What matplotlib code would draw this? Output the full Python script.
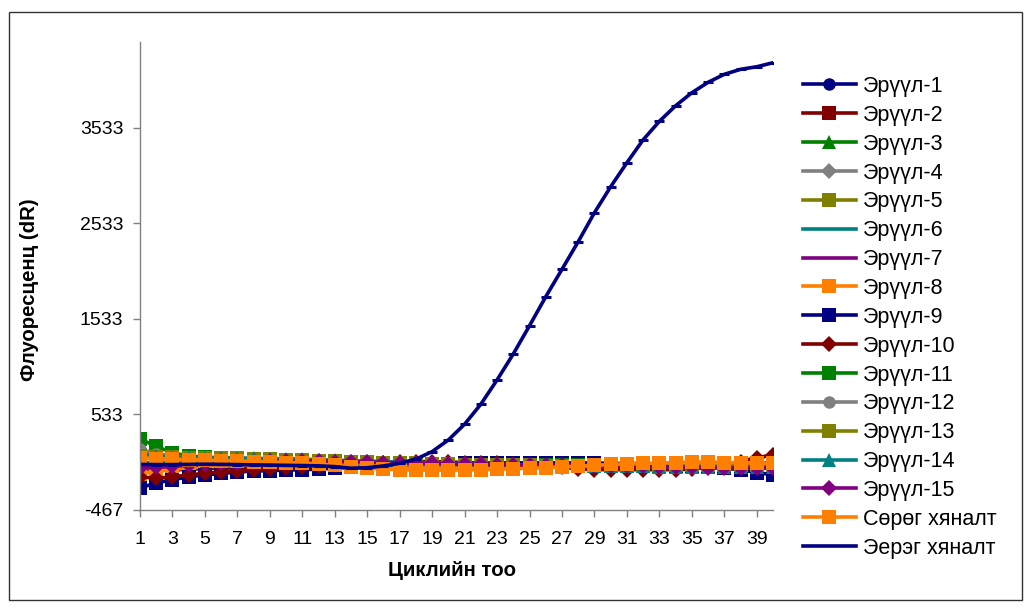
import matplotlib
matplotlib.use('Agg')
import matplotlib.pyplot as plt
from matplotlib.patches import Rectangle

plt.rcParams['font.family'] = ['Liberation Sans', 'DejaVu Sans']
plt.rcParams['axes.unicode_minus'] = False

# cycles
cycles = list(range(1, 41))

# fluorescence (dR) per sample
e1 = [-30, -25, -20, -15, -10, -5, -5, 0, 0, 0, 0, 0, 5, 5, 5, 10, 10, 15, 15, 15,
      15, 20, 20, 20, 20, 20, 25, 25, 25, 20, 20, 20, 15, 15, 10, 10, 5, 5, 0, -5]
e2 = [-60, -55, -50, -40, -35, -30, -25, -20, -15, -10, -10, -5, -5, 0, 0, 0, 0, 0, 0, 0,
      0, 0, 0, 0, 0, -5, -5, -10, -10, -10, -10, -10, -10, -10, -5, 0, 5, 10, 20, 30]
e3 = [150, 120, 100, 90, 80, 70, 65, 60, 55, 50, 45, 40, 35, 30, 25, 20, 15, 10, 10, 5,
      5, 5, 0, 0, 0, 0, -5, -5, -5, -5, -10, -10, -10, -10, -10, -10, -10, -10, -10, -10]
e4 = [-40, -30, -20, -15, -10, -5, 0, 0, 5, 5, 5, 5, 5, 5, 5, 5, 5, 5, 5, 5,
      5, 0, 0, 0, 0, 0, 0, 0, 0, 0, 0, 0, -5, -5, -5, -5, -5, -5, -5, -5]
e5 = [110, 100, 95, 90, 85, 80, 75, 70, 65, 60, 55, 50, 45, 40, 35, 30, 25, 20, 15, 10,
      10, 5, 5, 5, 5, 0, 0, 0, 0, 0, 0, 0, 0, 0, 0, 0, 0, 0, 0, 0]
e6 = [30, 28, 26, 25, 24, 22, 20, 20, 18, 18, 16, 15, 14, 12, 10, 10, 8, 8, 6, 5,
      5, 4, 4, 3, 2, 2, 0, 0, 0, 0, -2, -2, -4, -4, -5, -6, -6, -8, -8, -10]
e7 = [-30, -25, -20, -15, -10, -8, -5, -2, 0, 2, 4, 5, 6, 8, 8, 10, 10, 10, 10, 10,
      8, 8, 6, 5, 4, 2, 0, 0, -2, -4, -6, -8, -10, -12, -14, -16, -18, -20, -22, -25]
e8 = [-90, -60, -40, -25, -15, -5, 0, 5, 10, 10, 10, 8, 5, 0, -5, -10, -15, -20, -22, -25,
      -25, -22, -20, -18, -15, -12, -10, -5, 0, 5, 10, 12, 15, 18, 20, 20, 18, 15, 12, 10]
e9 = [-235, -185, -150, -120, -100, -85, -70, -60, -55, -50, -45, -40, -30, -20, -10, 0, 5, 10, 15, 15,
      20, 20, 25, 25, 25, 25, 25, 20, 20, 15, 10, 5, 0, -5, -10, -20, -30, -45, -75, -100]
e10 = [-120, -135, -120, -100, -85, -70, -60, -50, -40, -30, -20, -10, 0, 10, 20, 30, 35, 40, 40, 35,
       30, 25, 20, 10, 0, -10, -20, -35, -45, -45, -45, -45, -45, -45, -40, -20, 10, 40, 80, 110]
e11 = [275, 200, 130, 100, 85, 75, 70, 65, 60, 55, 50, 45, 40, 35, 30, 25, 20, 15, 10, 10,
       5, 5, 0, 0, 0, 0, 0, 0, 0, 0, 0, 0, 0, 0, 0, 0, 0, 0, 0, 0]
e12 = [170, 120, 95, 80, 70, 60, 55, 50, 45, 40, 35, 30, 25, 20, 15, 10, 5, 5, 0, 0,
       0, 0, 0, -5, -5, -5, -5, -5, -5, -5, -5, -5, -5, -5, -5, -5, -5, -5, -5, -5]
e13 = [95, 90, 85, 80, 78, 75, 72, 70, 65, 60, 55, 50, 45, 40, 35, 30, 25, 20, 15, 10,
       5, 5, 0, 0, 0, -5, -5, -5, -5, -5, -5, -5, 0, 0, 0, 0, 0, 0, 0, 0]
e14 = [120, 100, 90, 85, 80, 80, 75, 75, 70, 70, 65, 60, 55, 50, 45, 40, 35, 30, 25, 20,
       15, 10, 5, 0, 0, -5, -5, -10, -10, -10, -10, -10, -15, -15, -15, -15, -15, -15, -15, -15]
e15 = [-30, -20, -10, 0, 10, 20, 30, 40, 45, 45, 45, 45, 40, 40, 35, 30, 25, 20, 20, 15,
       10, 10, 5, 5, 0, 0, 0, -5, -5, -10, -10, -10, -15, -15, -20, -25, -30, -30, -30, -30]
neg = [80, 70, 65, 60, 55, 50, 45, 40, 35, 30, 25, 15, 0, -15, -30, -40, -45, -50, -50, -50,
       -48, -45, -40, -35, -30, -25, -15, -10, 0, 10, 15, 20, 25, 30, 35, 35, 30, 28, 25, 20]
pos = [10, 8, 8, 10, 12, 10, 8, 5, 3, 0, -2, -5, -13, -30, -25, -6, 22, 65, 144, 266,
       431, 640, 894, 1166, 1462, 1765, 2052, 2341, 2644, 2916, 3167, 3407, 3600, 3763, 3899, 4008, 4092, 4144, 4171, 4213]

labels = ['Эрүүл-1', 'Эрүүл-2', 'Эрүүл-3', 'Эрүүл-4', 'Эрүүл-5', 'Эрүүл-6', 'Эрүүл-7',
          'Эрүүл-8', 'Эрүүл-9', 'Эрүүл-10', 'Эрүүл-11', 'Эрүүл-12', 'Эрүүл-13', 'Эрүүл-14',
          'Эрүүл-15', 'Сөрөг хяналт', 'Эерэг хяналт']
series = [e1, e2, e3, e4, e5, e6, e7, e8, e9, e10, e11, e12, e13, e14, e15, neg, pos]
colors = ['#000080', '#800000', '#008000', '#808080', '#808000', '#008080', '#800080',
          '#FF8000', '#000080', '#800000', '#008000', '#808080', '#808000', '#008080',
          '#800080', '#FF8000', '#000080']
markers = ['o', 's', '^', 'D', 's', None, None, 's', 's', 'D', 's', 'o', 's', '^', 'D', 's', '_']
msizes = [9, 10.5, 9.5, 8, 10.5, 0, 0, 10.5, 10.5, 8, 10.5, 9, 10.5, 9.5, 8, 10.5, 7]

fig = plt.figure(figsize=(10.31, 6.08), dpi=100)
ax = fig.add_axes([140/1031, 1 - 510/608, 633/1031, 468/608])

for vals, lab, col, mk, ms in zip(series, labels, colors, markers, msizes):
    if mk == '_':
        ax.plot(cycles, vals, color=col, lw=2.6, marker=mk, ms=ms, mew=2.2, label=lab)
    elif mk is None:
        ax.plot(cycles, vals, color=col, lw=2.6, label=lab)
    else:
        ax.plot(cycles, vals, color=col, lw=2.6, marker=mk, ms=ms, mew=0, label=lab)

ax.set_xlim(1, 40)
ax.set_ylim(-467, 4430)
ax.set_xticks(list(range(1, 40, 2)))
ax.set_yticks([-467, 533, 1533, 2533, 3533])
ax.tick_params(labelsize=14, length=5, width=1, color='#808080')
ax.tick_params(axis='x', pad=10)
ax.tick_params(axis='y', pad=7)
for s in ['top', 'right']:
    ax.spines[s].set_visible(False)
for s in ['left', 'bottom']:
    ax.spines[s].set_color('#808080')
    ax.spines[s].set_linewidth(1)

fig.text(452/1031, 1 - 570/608, 'Циклийн тоо', fontsize=14.7, fontweight='bold',
         ha='center', va='center')
fig.text(30/1031, 1 - 290/608, 'Флуоресценц (dR)', fontsize=14.7, fontweight='bold',
         ha='center', va='center', rotation=90)

leg = ax.legend(loc='upper left', bbox_to_anchor=(803/1031, 1 - 76/608),
                bbox_transform=fig.transFigure, frameon=False, fontsize=15.5,
                handlelength=2.45, handletextpad=0.35, labelspacing=0.365, borderpad=0,
                borderaxespad=0)
for h in leg.legend_handles:
    if h.get_marker() == '_':
        h.set_marker('None')

fig.patches.append(Rectangle((9/1031, 8/608), 1013/1031, 1 - 20/608, transform=fig.transFigure,
                             fill=False, edgecolor='#333333', lw=1))

fig.savefig('out.png', dpi=100)
